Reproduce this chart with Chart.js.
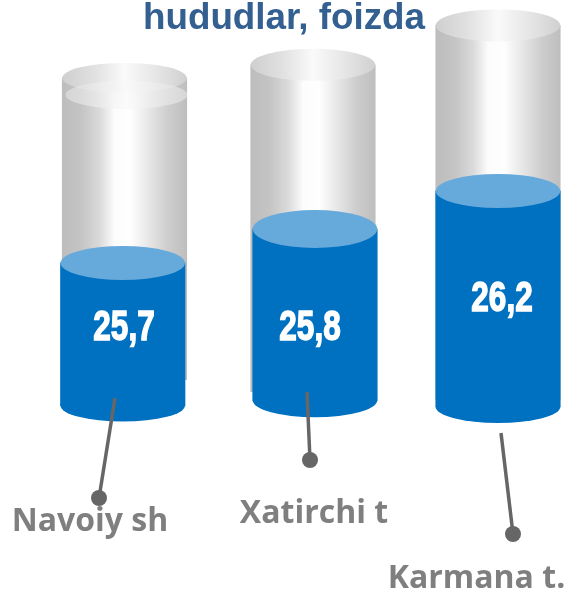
<!DOCTYPE html>
<html><head><meta charset="utf-8">
<style>html,body{margin:0;padding:0;background:#fff}canvas{display:block}</style>
<script src="https://cdn.jsdelivr.net/npm/chart.js@4"></script></head>
<body><canvas id="c" width="564" height="589"></canvas>
<script>
// ---- data ----
const categories = ['Navoiy sh', 'Xatirchi t', 'Karmana t.'];
const values = [25.7, 25.8, 26.2];
const fillBase = [24.71, 24.61, 24.70];
const tubeBase = [24.89, 24.67, 24.75];
const tubeTop = [26.985, 26.94, 27.35];
const titleText = 'hududlar, foizda';

// ---- hand-placed infographic layout (the source art is not on a regular grid) ----
const fillShift = [{dx:0,dy:0},{dx:4.6,dy:-19.6},{dx:0,dy:0}];
const tubeShift = [{dx:1.75,dy:0},{dx:2.6,dy:-19.6},{dx:0,dy:0}];
const capFill = [17,19,17], capBottom = [16,17,16], capTube = [15,16,16];
const leaders = [[115,398,99,498],[307,392,310,460],[501,433,513,534]];
const labelPos = [[90,522],[314,514],[476.5,579]];
const valuePos = [[124,328],[310,328],[502,299]];
const BAR = 124.5;
const CENTER_FONT = '"Liberation Sans"';

function tubeGradient(ctx, cx, stops){
  const g = ctx.createLinearGradient(cx-BAR/2,0,cx+BAR/2,0);
  stops.forEach(s=>g.addColorStop(s[0],s[1]));
  return g;
}
const bodyStops=[[0,'#bdbdbd'],[0.15,'#c4c4c4'],[0.3,'#dadada'],[0.42,'#fcfcfc'],[0.55,'#fefefe'],[0.7,'#e6e6e6'],[0.85,'#cdcdcd'],[1,'#bebebe']];
const capStops=[[0,'#cfcfcf'],[0.25,'#e0e0e0'],[0.5,'#fafafa'],[0.75,'#e6e6e6'],[1,'#d0d0d0']];

function ellipse(ctx,x,y,rx,ry,fill){
  ctx.beginPath();ctx.ellipse(x,y,rx,ry,0,0,Math.PI*2);ctx.fillStyle=fill;ctx.fill();
}

const cylinderPlugin = {
  id:'cylinders',
  afterLayout(chart){
    // centre the title on the picture, not on the padded plot band
    chart.titleBlock.left=4; chart.titleBlock.right=564;
  },
  afterDatasetsUpdate(chart){
    [tubeShift,fillShift].forEach((shift,d)=>{
      chart.getDatasetMeta(d).data.forEach((el,i)=>{
        el.x+=shift[i].dx; el.y+=shift[i].dy; el.base+=shift[i].dy;
      });
    });
  },
  afterDatasetsDraw(chart){
    const ctx=chart.ctx, tubes=chart.getDatasetMeta(0).data, fills=chart.getDatasetMeta(1).data;
    ctx.save();
    tubes.forEach((el,i)=>{
      ellipse(ctx,el.x,el.y,BAR/2,capTube[i],tubeGradient(ctx,el.x,capStops));
    });
    // second, slipped lid on the first tube
    const t0=tubes[0];
    ctx.globalAlpha=0.7;
    ellipse(ctx,t0.x+2,t0.y+17,61,14,tubeGradient(ctx,t0.x+2,[[0,'#dedede'],[0.5,'#f9f9f9'],[1,'#e0e0e0']]));
    ctx.globalAlpha=1;
    fills.forEach((el,i)=>{
      ellipse(ctx,el.x,el.base,BAR/2,capBottom[i],'#0070C0');
      ellipse(ctx,el.x,el.y,BAR/2,capFill[i],'#66A9DB');
    });
    // category labels
    ctx.textAlign='center';ctx.textBaseline='middle';
    ctx.fillStyle='#7F7F7F';ctx.font='bold 32px "Open Sans"';
    categories.forEach((c,i)=>ctx.fillText(c,labelPos[i][0],labelPos[i][1]));
    // leaders
    ctx.strokeStyle='#666666';ctx.lineWidth=3.5;ctx.fillStyle='#666666';
    leaders.forEach(l=>{
      ctx.beginPath();ctx.moveTo(l[0],l[1]);ctx.lineTo(l[2],l[3]);ctx.stroke();
      ctx.beginPath();ctx.arc(l[2],l[3],8,0,Math.PI*2);ctx.fill();
    });
    // values, condensed
    ctx.fillStyle='#fff';ctx.font='bold 42px '+CENTER_FONT;
    values.forEach((v,i)=>{
      ctx.save();ctx.translate(valuePos[i][0],valuePos[i][1]);ctx.scale(0.75,1);
      ctx.lineWidth=1.5;ctx.strokeStyle='#fff';
      const s=v.toFixed(1).replace('.',',');
      ctx.fillText(s,0,0);ctx.strokeText(s,0,0);ctx.restore();
    });
    ctx.restore();
  }
};

new Chart(document.getElementById('c'),{
  type:'bar',
  data:{labels:categories,datasets:[
    {label:'tube',data:tubeBase.map((b,i)=>[b,tubeTop[i]]),order:2,grouped:false,clip:false,barThickness:BAR,
     borderWidth:0,
     backgroundColor:c=>{
       const sx=c.chart.scales.x;
       if(c.dataIndex===undefined||!sx) return '#ccc';
       const x=sx.getPixelForValue(c.dataIndex);
       if(!Number.isFinite(x)) return '#ccc';
       return tubeGradient(c.chart.ctx,x+tubeShift[c.dataIndex].dx,bodyStops);
     }},
    {label:'fill',data:values.map((v,i)=>[fillBase[i],v]),order:1,grouped:false,clip:false,barThickness:BAR,
     borderWidth:0,backgroundColor:'#0070C0'}
  ]},
  options:{
    responsive:false,animation:false,
    layout:{padding:{left:122.75,right:66,top:0,bottom:0}},
    scales:{
      x:{display:false,offset:false},
      y:{display:false,min:23.436,max:27.2597}
    },
    plugins:{
      legend:{display:false},tooltip:{enabled:false},
      title:{display:true,text:titleText,color:'#335F91',padding:0,
             font:{family:'"Liberation Sans"',weight:'bold',size:36.8,lineHeight:1.0435}}
    }
  },
  plugins:[cylinderPlugin]
});
</script></body></html>
